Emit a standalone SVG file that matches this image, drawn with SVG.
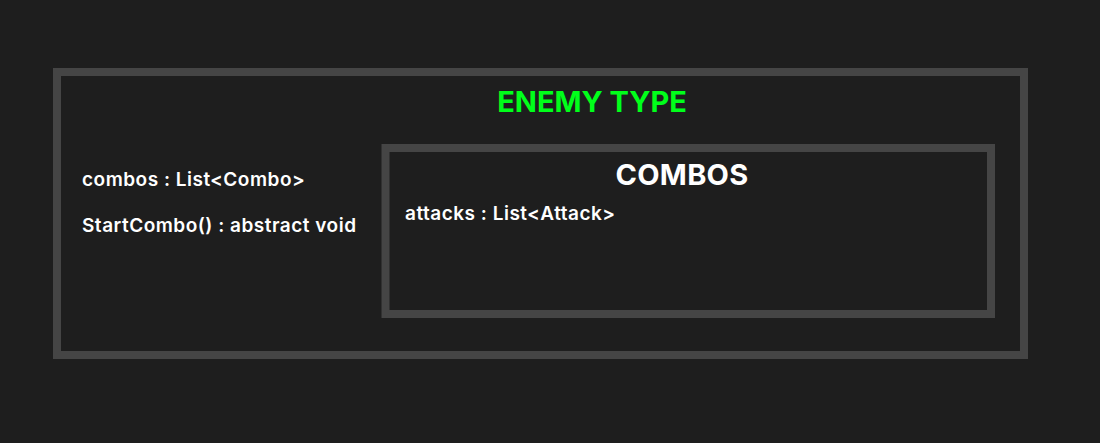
<svg xmlns="http://www.w3.org/2000/svg" width="1100" height="443" viewBox="0 0 1100 443">
<style>
.box{fill:#1e1e1e;stroke:#454545;stroke-width:8}
.t{font-family:Inter,"Noto Sans",sans-serif;font-weight:600;fill:#ffffff;font-size:19px;letter-spacing:0.5px}
.h{font-family:Inter,"Noto Sans",sans-serif;font-weight:700}
</style>
<rect width="1100" height="443" fill="#1e1e1e"/>
<g id="enemy-type">
<rect class="box" x="57" y="72" width="967" height="283"/>
<text class="h" x="592" y="112" font-size="29" text-anchor="middle" fill="#00ff1a">ENEMY TYPE</text>
<text class="t" x="82" y="186">combos : List&lt;Combo&gt;</text>
<text class="t" x="82" y="232">StartCombo() : abstract void</text>
</g>
<g id="combos">
<rect class="box" x="385.5" y="148" width="605.5" height="166"/>
<text class="h" x="682" y="185" font-size="29" letter-spacing="0.3" text-anchor="middle" fill="#ffffff">COMBOS</text>
<text class="t" x="405" y="220">attacks : List&lt;Attack&gt;</text>
</g>
<g id="connectors"/>
</svg>
